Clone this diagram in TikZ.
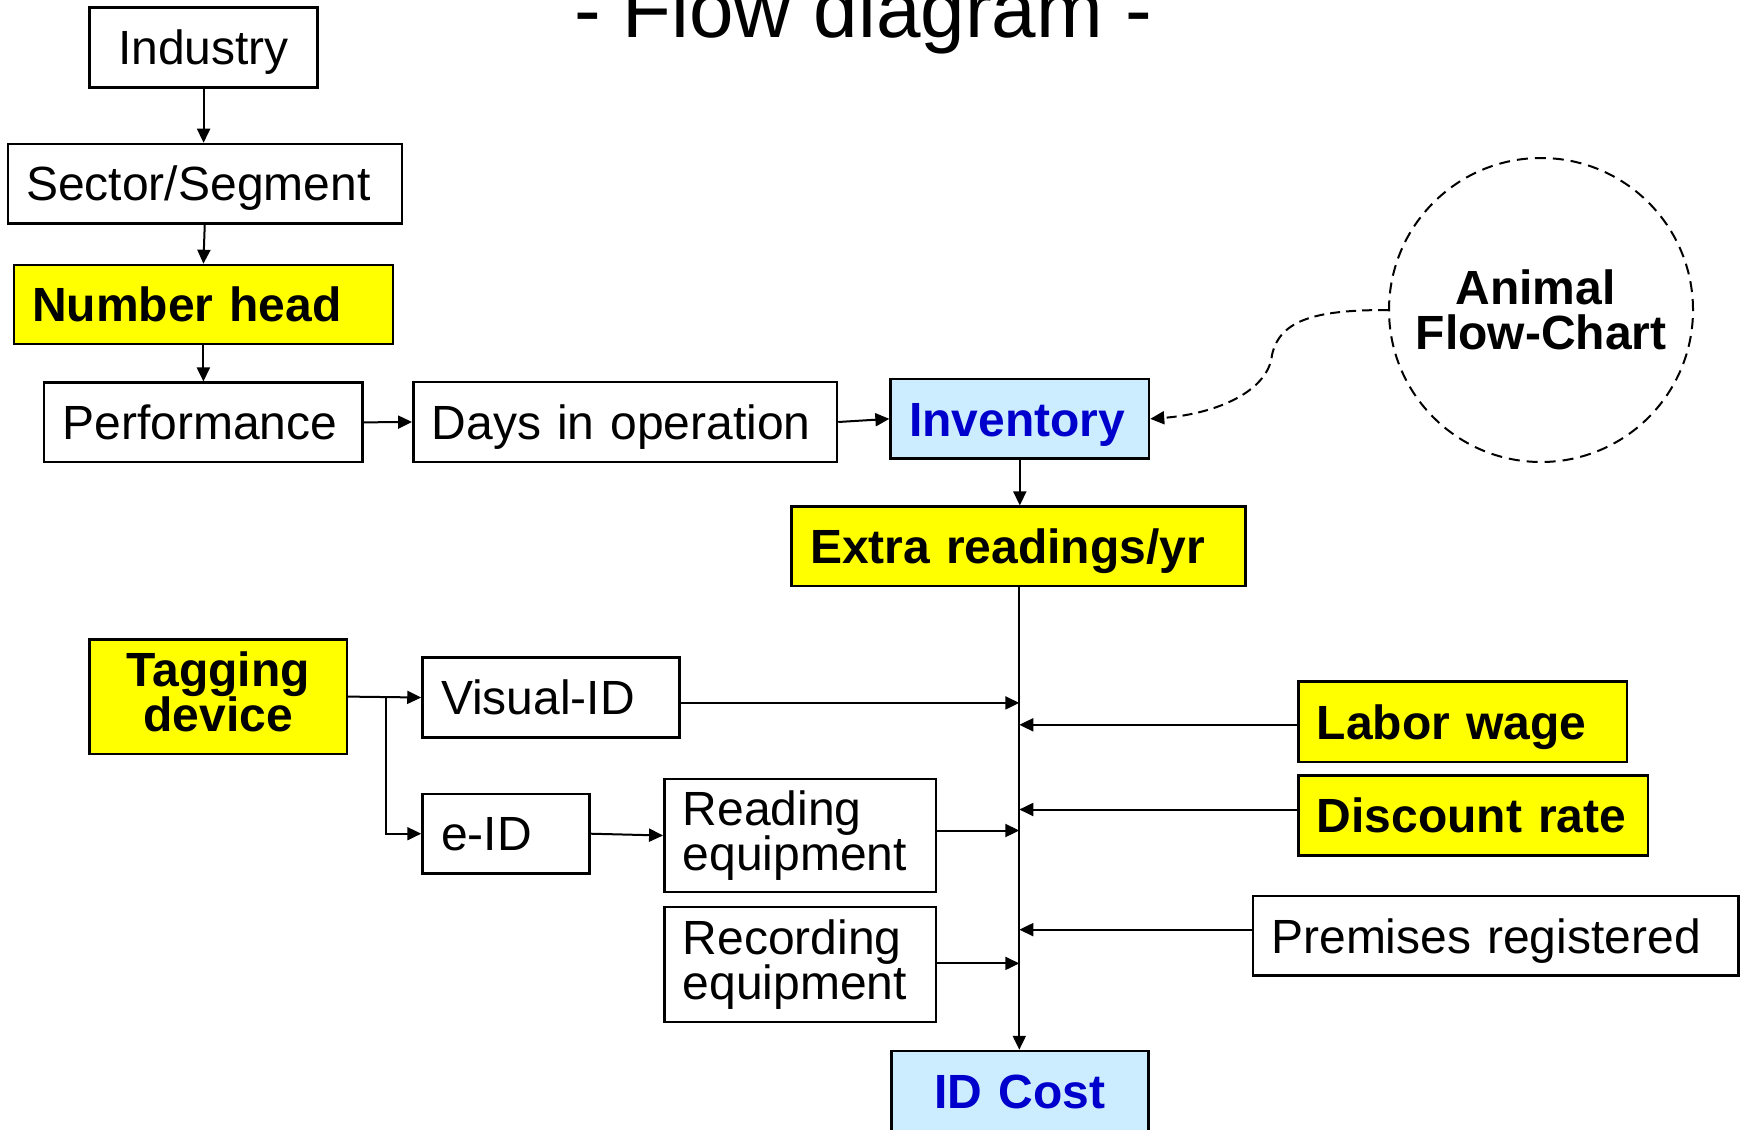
\documentclass[tikz,border=0pt]{standalone}
\usepackage{fontspec}
\setmainfont{Liberation Sans}
\usetikzlibrary{arrows.meta}
\definecolor{hlyellow}{RGB}{255,255,0}
\definecolor{hlblue}{RGB}{204,236,255}
\definecolor{txtblue}{RGB}{0,0,204}
\newcommand{\bodyfont}{\fontsize{48}{45}\selectfont\lineskiplimit=-30pt}
\begin{document}
\begin{tikzpicture}[x=1pt,y=-1pt,
  bx/.style={draw, line width=2.5pt, inner xsep=18.5pt, inner ysep=0pt, font=\bodyfont, align=left},
  one/.style={text height=34.4pt, text depth=0pt},
  ybox/.style={fill=hlyellow, font=\bodyfont\bfseries},
  bbox/.style={fill=hlblue, text=txtblue, font=\bodyfont\bfseries},
  conn/.style={line width=2pt, -{Triangle[length=14pt,width=13pt]}},
  dconn/.style={line width=2pt, dash pattern=on 10pt off 6pt, -{Triangle[length=14pt,width=13pt]}}
]
\useasboundingbox (0,0) rectangle (1744,1129);
\fill[white] (0,0) rectangle (1744,1129);

\node[font=\fontsize{80}{80}\selectfont, anchor=base] (title) at (863,38) {- Flow diagram -};

\node[bx, one, minimum width=228pt, minimum height=80pt, text width=191pt, align=center] (ind) at (203.6,47.7) {Industry};
\node[bx, one, minimum width=394pt, minimum height=79.3pt, text width=357pt] (sec) at (204.75,183.65) {Sector/Segment};
\node[bx, one, ybox, minimum width=379.2pt, minimum height=79pt, text width=342.2pt] (num) at (203.4,304.5) {Number head};
\node[bx, one, minimum width=318.4pt, minimum height=79.3pt, text width=281.4pt] (perf) at (203.2,422.35) {Performance};
\node[bx, one, minimum width=423.7pt, minimum height=80pt, text width=386.7pt] (days) at (625.15,422) {Days in operation};
\node[bx, one, bbox, minimum width=258.4pt, minimum height=79.7pt, text width=221.4pt] (inv) at (1019.8,418.85) {Inventory};
\node[bx, one, ybox, minimum width=454pt, minimum height=79.3pt, text width=417pt] (extra) at (1018.7,546.3) {Extra readings/yr};

\node[circle, draw, line width=2pt, dash pattern=on 11pt off 7pt, minimum size=304pt, inner sep=0pt,
      font=\bodyfont\bfseries, align=center] (afc) at (1541,310) {Animal\kern11pt\\Flow-Chart};

\node[bx, ybox, minimum width=257.2pt, minimum height=114.3pt, text width=220.2pt, align=center] (tag) at (218.3,696.6) {Tagging\\device\vphantom{g}};
\node[bx, one, minimum width=257.2pt, minimum height=79.6pt, text width=220.2pt] (vis) at (551.1,697.5) {Visual-ID};
\node[bx, one, minimum width=166.8pt, minimum height=79.3pt, text width=129.8pt] (eid) at (505.9,833.7) {e-ID};
\node[bx, minimum width=271.9pt, minimum height=113.4pt, text width=234.9pt] (read) at (800.25,835.5) {Reading\\equipment};
\node[bx, minimum width=271.9pt, minimum height=114.7pt, text width=234.9pt] (rec) at (800.25,964.4) {Recording\\equipment};
\node[bx, bbox, text height=34.4pt, text depth=20pt, minimum width=257.2pt, minimum height=100pt, text width=220.2pt, align=center] (idc) at (1019.9,1101) {ID Cost};

\node[bx, one, ybox, minimum width=328.6pt, minimum height=80.4pt, text width=291.6pt] (labor) at (1462.7,721.8) {Labor wage};
\node[bx, one, ybox, minimum width=349.4pt, minimum height=80.3pt, text width=312.4pt] (disc) at (1473.1,815.5) {Discount rate};
\node[bx, one, minimum width=485.6pt, minimum height=79.3pt, text width=448.6pt] (prem) at (1495.6,935.85) {Premises registered};

% top chain
\draw[conn] (ind.south) -- (ind.south |- sec.north);
\draw[conn] (sec.south) -- (num.north);
\draw[conn] (num.south) -- (num.south |- perf.north);
\draw[conn] (perf.east) -- (days.west);
\draw[conn] (days.east) -- (inv.west);
\draw[conn] (inv.south) -- (inv.south |- extra.north);
\draw[dconn] (afc.west) .. controls (1320,310) and (1280,318) .. (1272,355)
                        .. controls (1268,392) and (1215,414) .. (inv.east);

% trunk
\coordinate (tx) at (1019.3,0);
\draw[conn] (tx |- extra.south) -- (tx |- idc.north);

% left inputs
\coordinate (v1) at ([yshift=-5.4pt]vis.east);
\draw[conn] (v1) -- (v1 -| tx);
\coordinate (r1) at ([yshift=5pt]read.east);
\draw[conn] (r1) -- (r1 -| tx);
\coordinate (c1) at ([yshift=1pt]rec.east);
\draw[conn] (c1) -- (c1 -| tx);

% right inputs
\coordinate (l1) at ([yshift=-3pt]labor.west);
\draw[conn] (l1) -- (l1 -| tx);
\coordinate (d1) at ([yshift=6pt]disc.west);
\draw[conn] (d1) -- (d1 -| tx);
\coordinate (p1) at ([yshift=6.2pt]prem.west);
\draw[conn] (p1) -- (p1 -| tx);

% tagging branches
\draw[conn] (tag.east) -- (vis.west);
\path (tag.east) ++(37.5,0) coordinate (br);
\draw[conn] (br) |- (eid.west);
\draw[conn] (eid.east) -- (read.west);
\end{tikzpicture}
\end{document}
